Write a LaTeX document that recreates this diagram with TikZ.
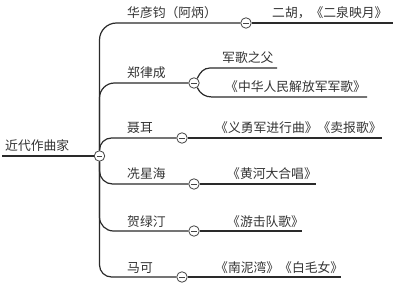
\documentclass[tikz,border=0pt]{standalone}
\usepackage{fontspec}
\newfontfamily\cjk{Noto Sans CJK SC}
\definecolor{linec}{HTML}{2A2A2A}
\definecolor{textc}{HTML}{333333}
\definecolor{togc}{HTML}{444444}
\begin{document}
\begin{tikzpicture}[x=1pt,y=-1pt,
  lbl/.style={font=\cjk\fontsize{12.8}{14}\selectfont, inner sep=0pt, anchor=base west, text=textc},
  tog/.style={circle, draw=togc, fill=white, line width=0.8pt, minimum size=10.5pt, inner sep=0pt,
    path picture={\draw[line width=0.8pt, togc] ([xshift=-2.6pt]path picture bounding box.center) -- ([xshift=2.6pt]path picture bounding box.center);}},
  edge/.style={draw=linec, line width=1.2pt}]
\useasboundingbox (0,0) rectangle (401,288);
% root
\node[lbl] (root) at (5,151) {近代作曲家};
% toggles
\node[tog] (c0) at (99.5,156) {};
\node[tog] (c1) at (246,23) {};
\node[tog] (c2) at (194,83) {};
\node[tog] (c3) at (182,138) {};
\node[tog] (c4) at (194,184) {};
\node[tog] (c5) at (194,231) {};
\node[tog] (c6) at (182,277) {};
% level-1 labels
\node[lbl] (n1) at (127,18) {华彦钧（阿炳）};
\node[lbl] (n2) at (127,78) {郑律成};
\node[lbl] (n3) at (127,133) {聂耳};
\node[lbl] (n4) at (127,179) {冼星海};
\node[lbl] (n5) at (127,226) {贺绿汀};
\node[lbl] (n6) at (127,272) {马可};
% level-2 labels
\node[lbl] (t1) at (272,18) {二胡，《二泉映月》};
\node[lbl] (t2a) at (222,63) {军歌之父};
\node[lbl] (t2b) at (225,92) {《中华人民解放军军歌》};
\node[lbl] (t3) at (215,133) {《义勇军进行曲》《卖报歌》};
\node[lbl] (t4) at (227,179) {《黄河大合唱》};
\node[lbl] (t5) at (227,226) {《游击队歌》};
\node[lbl] (t6) at (215,272) {《南泥湾》《白毛女》};
% underline ends
\coordinate (r0) at (2,156);
\coordinate (e1) at (393,23);
\coordinate (e2a) at (277,68);
\coordinate (e2b) at (367,97);
\coordinate (e3) at (382,138);
\coordinate (e4) at (316,184);
\coordinate (e5) at (302,231);
\coordinate (e6) at (341,277);
\coordinate (k2a) at (210,68);
\coordinate (k2b) at (212,97);
% root line
\draw[edge] (r0) -- (c0);
% trunk branches
\draw[edge, rounded corners=17pt] (c0) |- (c1);
\draw[edge, rounded corners=15pt] (c0) |- (c2);
\draw[edge, rounded corners=12pt] (c0) |- (c3);
\draw[edge, rounded corners=13pt] (c0) |- (c4);
\draw[edge, rounded corners=14pt] (c0) |- (c5);
\draw[edge, rounded corners=12pt] (c0) |- (c6);
% level-2 connectors
\draw[edge] (c1) -- (e1);
\draw[edge] (c2.55) to[out=65,in=180] (k2a) -- (e2a);
\draw[edge] (c2.-55) to[out=-65,in=180] (k2b) -- (e2b);
\draw[edge] (c3) -- (e3);
\draw[edge] (c4) -- (e4);
\draw[edge] (c5) -- (e5);
\draw[edge] (c6) -- (e6);
\end{tikzpicture}
\end{document}
